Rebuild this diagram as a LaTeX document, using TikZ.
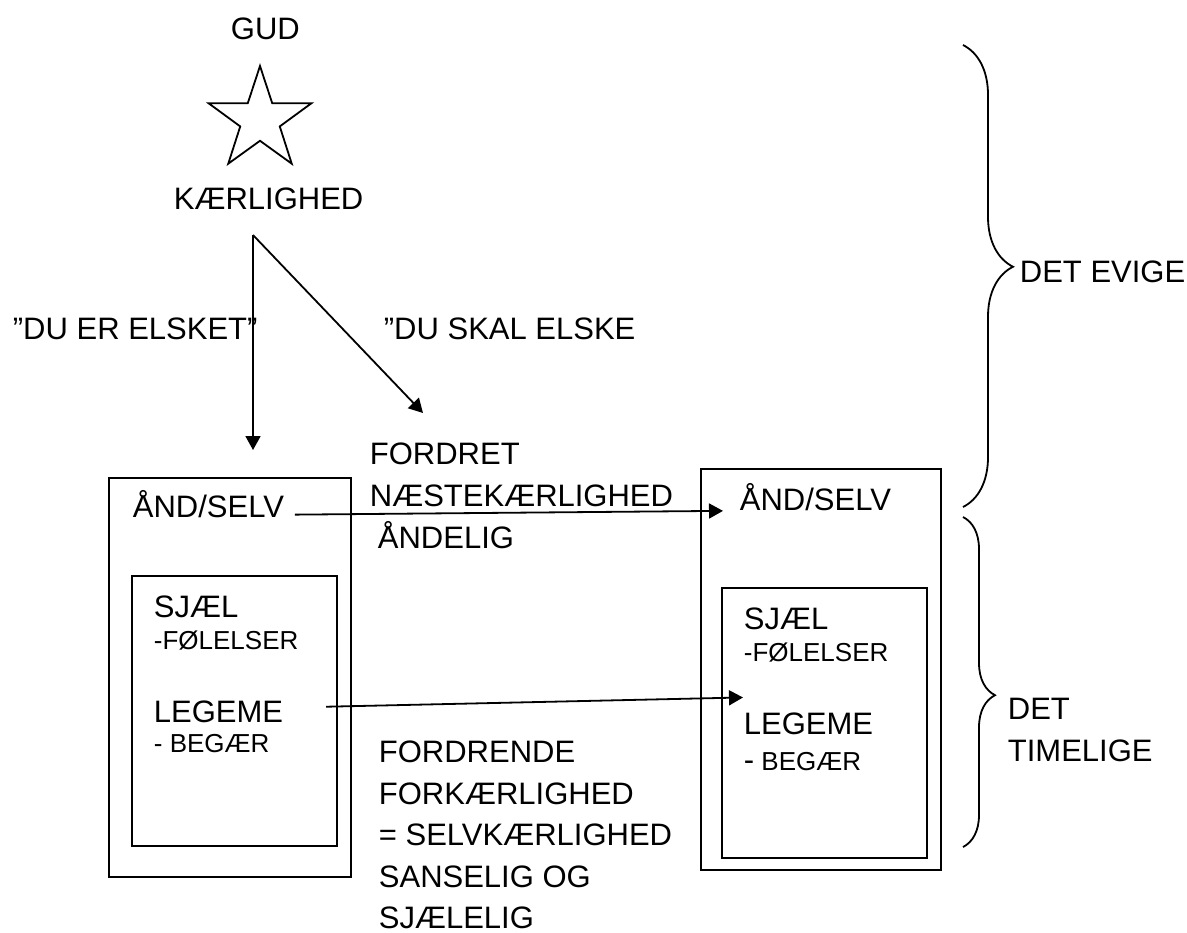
\documentclass[tikz,border=0pt]{standalone}
\usepackage{fontspec}
\setmainfont{Liberation Sans}
\usetikzlibrary{arrows.meta,shapes.geometric,decorations.pathreplacing}

\begin{document}
\begin{tikzpicture}[x=0.5pt,y=-0.5pt,line width=0.9pt,>={Triangle[length=7pt,width=7.5pt]},
                    font=\fontsize{15.5}{21}\selectfont,
                    txt/.style={inner sep=0pt,anchor=base west},
                    smalltxt/.style={txt,font=\fontsize{13}{16}\selectfont},
                    textblock/.style={inner sep=0pt,anchor=north west,align=left},
                    boxnode/.style={draw,inner sep=0pt,minimum width=#1}]
  \useasboundingbox (0,0) rectangle (1187,932);

  \node[txt] (gud) at (230,39) {GUD};
  \node[draw,star,star points=5,star point ratio=2.6,minimum size=54pt,inner sep=0pt] (star) at (260,120) {};
  \node[txt] (kaer) at (173,209) {KÆRLIGHED};
  \coordinate (top) at (253,235);
  \coordinate (elsket) at (253,450);
  \coordinate (skal) at (423,413);
  \node[txt] (duer) at (12,339) {”DU ER ELSKET”};
  \node[txt] (duskal) at (383,339) {”DU SKAL ELSKE};
  \node[textblock] (fordret) at (369,442) {FORDRET\\NÆSTEKÆRLIGHED\\\hspace*{4pt}ÅNDELIG};

  % left person
  \node[boxnode=121pt,minimum height=199.5pt] (outerL) at (230,677.5) {};
  \node[boxnode=102.5pt,minimum height=135pt] (innerL) at (234.5,711) {};
  \node[txt] (andL) at (132,517) {ÅND/SELV};
  \node[txt] (sjaelL) at (153,617) {SJÆL};
  \node[smalltxt] (folL) at (153,649) {-FØLELSER};
  \node[txt] (legL) at (153,722) {LEGEME};
  \node[smalltxt] (begL) at (153,752) {- BEGÆR};

  % right person
  \node[boxnode=120pt,minimum height=200.5pt] (outerR) at (821,669.5) {};
  \node[boxnode=102.5pt,minimum height=135pt] (innerR) at (824.5,723) {};
  \node[txt] (andR) at (739,510) {ÅND/SELV};
  \node[txt] (sjaelR) at (743,629) {SJÆL};
  \node[smalltxt] (folR) at (743,661) {-FØLELSER};
  \node[txt] (legR) at (743,734) {LEGEME};
  \node[smalltxt] (begR) at (743,770) {{\fontsize{15.5}{21}\selectfont -} BEGÆR};

  \node[textblock,font=\fontsize{15.5}{20.75}\selectfont] (fordrende) at (378,740) {FORDRENDE\\FORKÆRLIGHED\\= SELVKÆRLIGHED\\SANSELIG OG\\SJÆLELIG};

  \draw[->] (top) -- (elsket);
  \draw[->] (top) -- (skal);
  \draw[->,shorten <=5pt,shorten >=8pt] ([yshift=-1.5pt]andL.mid east) -- ([yshift=-3pt]andR.mid west);
  \draw[->] ([xshift=21pt,yshift=5pt]legL.mid east) -- ([yshift=7pt]legR.north west);

  % braces
  \draw[decorate,decoration={brace,amplitude=25pt,aspect=0.48}] (963,45) -- (963,507);
  \draw[decorate,decoration={brace,amplitude=16pt,aspect=0.54}] (963,517) -- (963,847);
  \node[txt] (evige) at (1019,282) {DET EVIGE};
  \node[textblock] (timelige) at (1007,697) {DET\\TIMELIGE};
\end{tikzpicture}
\end{document}
